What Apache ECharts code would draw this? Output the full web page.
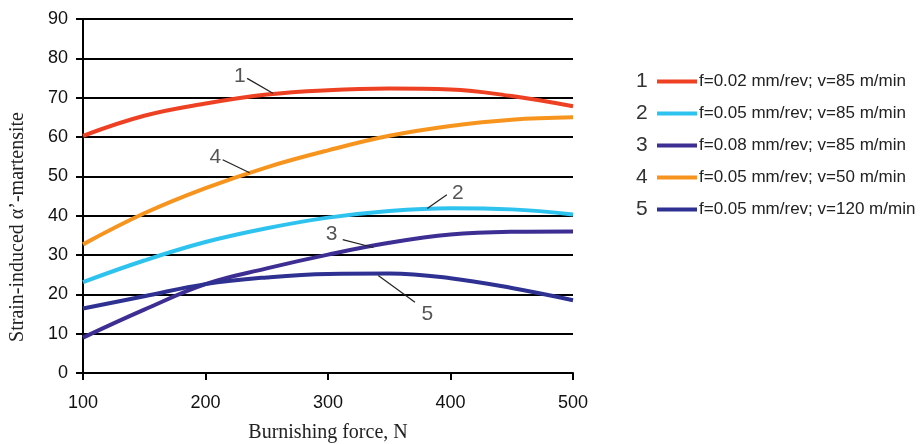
<!DOCTYPE html>
<html>
<head>
<meta charset="utf-8">
<script src="https://cdn.jsdelivr.net/npm/echarts@6/dist/echarts.min.js"></script>
<style>
  html, body { margin: 0; padding: 0; background: #fff; }
  #main { width: 920px; height: 444px; }
</style>
</head>
<body>
<div id="main"></div>
<script>
// burnishing force, N
var forces = [100, 150, 200, 250, 300, 350, 400, 450, 500];
// curve values
var curve1 = [60.3, 65.4, 68.5, 70.8, 71.9, 72.3, 72.1, 70.4, 67.8];
var curve2 = [23.1, 28.6, 33.3, 36.8, 39.5, 41.2, 41.9, 41.6, 40.3];
var curve3 = [9.0, 16.1, 22.6, 26.6, 30.1, 33.1, 35.2, 35.9, 36.0];
var curve4 = [32.7, 40.6, 47.0, 52.3, 56.6, 60.3, 62.8, 64.4, 65.0];
var curve5 = [16.4, 19.5, 22.6, 24.3, 25.2, 25.3, 24.1, 21.6, 18.5];

var names = [
  'f=0.02 mm/rev; v=85 m/min',
  'f=0.05 mm/rev; v=85 m/min',
  'f=0.08 mm/rev; v=85 m/min',
  'f=0.05 mm/rev; v=50 m/min',
  'f=0.05 mm/rev; v=120 m/min'
];
var colors = ['#ee4124', '#2ec3ef', '#3c2e92', '#f7941e', '#2e3192'];
var curveNums = ['1', '2', '3', '4', '5'];

// curve number labels and their leader lines (data coords)
var tagPos = [[228, 75.4], [406, 45.6], [303, 35.4], [208, 54.9], [381, 14.9]];
var leaders = [
  [[234, 74.9], [255, 71.1]],
  [[397, 45.3], [381, 41.8]],
  [[312, 33.9], [337, 31.9]],
  [[214, 54.2], [236, 50.9]],
  [[341, 24.8], [371, 18.0]]
];

function pairs(vals) {
  var out = [];
  for (var i = 0; i < forces.length; i++) out.push([forces[i], vals[i]]);
  return out;
}

var chart = echarts.init(document.getElementById('main'));
var allCurves = [curve1, curve2, curve3, curve4, curve5];
var series = [];
for (var k = 0; k < allCurves.length; k++) {
  series.push({
    type: 'line',
    name: names[k],
    data: pairs(allCurves[k]),
    smooth: 0.4,
    showSymbol: false,
    symbol: 'none',
    z: 3,
    lineStyle: { color: colors[k], width: 4 },
    itemStyle: { color: colors[k] }
  });
}
series.push({
  type: 'lines',
  name: 'leaders',
  coordinateSystem: 'cartesian2d',
  polyline: false,
  silent: true,
  z: 4,
  lineStyle: { color: '#222', width: 1.2, opacity: 1 },
  data: leaders.map(function (c) { return { coords: c }; })
});
series.push({
  type: 'scatter',
  name: 'tags',
  symbolSize: 0,
  silent: true,
  z: 5,
  data: tagPos.map(function (p, i) { return { value: p, label: { formatter: curveNums[i] } }; }),
  label: {
    show: true,
    position: 'inside',
    fontFamily: 'Liberation Sans, Arial',
    fontSize: 21,
    color: '#2a2a2a'
  }
});

var legendRows = [81.7, 113.7, 145.7, 177.7, 209.7];
var graphics = legendRows.map(function (y, i) {
  return {
    type: 'text',
    left: 636,
    top: y - 11,
    style: {
      text: curveNums[i],
      font: '21px "Liberation Sans", Arial',
      fill: '#333'
    }
  };
});
graphics.push({
  type: 'text',
  x: 18,
  y: 227,
  rotation: Math.PI / 2,
  style: {
    text: 'Strain-induced \u03b1\u2019-martensite',
    font: '20px "Liberation Serif", "Times New Roman", serif',
    fill: '#222',
    textAlign: 'center',
    textVerticalAlign: 'middle'
  }
});

var option = {
  animation: false,
  backgroundColor: '#fff',
  grid: { left: 83, right: 347, top: 19, bottom: 71, containLabel: false, outerBoundsMode: 'none' },
  legend: {
    data: names,
    orient: 'vertical',
    left: 657,
    top: 72,
    padding: 0,
    icon: 'rect',
    itemWidth: 40,
    itemHeight: 4,
    itemGap: 13,
    selectedMode: false,
    textStyle: {
      fontFamily: 'Liberation Sans, Arial',
      fontSize: 17,
      lineHeight: 19,
      color: '#222',
      padding: [0, 0, 0, -3]
    }
  },
  xAxis: {
    type: 'value',
    min: 100,
    max: 500,
    interval: 100,
    name: 'Burnishing force, N',
    nameLocation: 'middle',
    nameGap: 50,
    nameTextStyle: {
      fontFamily: 'Liberation Serif, Times New Roman, serif',
      fontSize: 20,
      color: '#222'
    },
    axisLine: { show: true, lineStyle: { color: '#000', width: 2 } },
    axisTick: { show: true, length: 7, lineStyle: { color: '#000', width: 2 } },
    axisLabel: {
      margin: 21,
      fontFamily: 'Liberation Sans, Arial',
      fontSize: 18,
      color: '#111'
    },
    splitLine: { show: false }
  },
  yAxis: {
    type: 'value',
    min: 0,
    max: 90,
    interval: 10,
    axisLine: { show: true, lineStyle: { color: '#000', width: 2 } },
    axisTick: { show: true, length: 7, lineStyle: { color: '#000', width: 2 } },
    axisLabel: {
      margin: 15,
      fontFamily: 'Liberation Sans, Arial',
      fontSize: 18,
      color: '#111'
    },
    splitLine: { show: true, lineStyle: { color: '#000', width: 2 } }
  },
  graphic: graphics,
  series: series
};
chart.setOption(option);
</script>
</body>
</html>
